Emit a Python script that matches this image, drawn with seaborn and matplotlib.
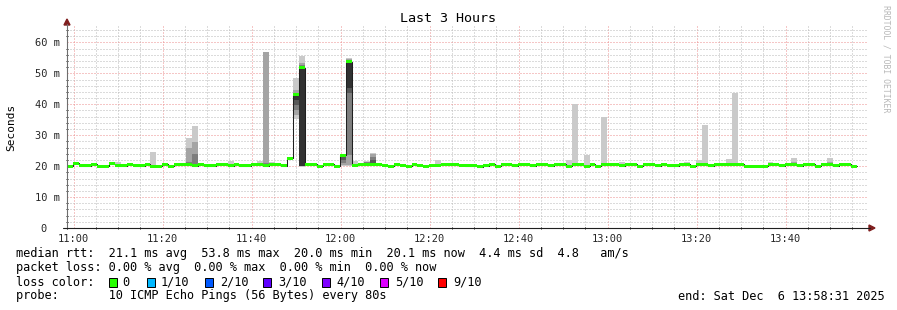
import numpy as np
import pandas as pd
import matplotlib
matplotlib.use("Agg")
import matplotlib.pyplot as plt
import seaborn as sns
from matplotlib.patches import Rectangle, Polygon
from matplotlib.lines import Line2D
from matplotlib.ticker import MultipleLocator, FixedLocator

# ------------------------------------------------------------------ data
title = "Last 3 Hours"
y_label = "Seconds"
side_label = "RRDTOOL / TOBI OETIKER"

window_start_min = -1.4833      # 10:58:31, minutes relative to 11:00
window_end_min = 178.5167       # 13:58:31
first_step_min = -1.40          # first probe interval starts 10:58:36
step_seconds = 80

median_ms = [
    20.0, 21.0, 20.2, 20.2, 20.6, 19.9, 19.9, 20.8, 20.2, 20.2,
    20.6, 20.1, 20.1, 20.6, 19.9, 19.9, 20.6, 19.9, 20.4, 20.4,
    20.4, 20.2, 20.6, 20.1, 20.1, 20.6, 20.6, 20.2, 20.5, 20.2,
    20.1, 20.6, 20.6, 20.2, 20.6, 20.6, 20.1, 22.5, 43.0, 51.8,
    20.6, 20.6, 20.0, 20.6, 20.6, 20.0, 23.5, 53.7, 20.3, 20.4,
    20.4, 20.6, 20.6, 20.3, 19.9, 20.6, 20.3, 19.9, 20.6, 20.3,
    19.9, 20.3, 20.3, 20.6, 20.5, 20.5, 20.3, 20.1, 20.1, 19.8,
    20.1, 20.6, 19.9, 20.6, 20.6, 20.1, 20.6, 20.6, 20.1, 20.6,
    20.6, 20.1, 20.6, 20.6, 19.9, 20.6, 20.5, 19.9, 20.6, 19.9,
    20.4, 20.4, 20.6, 20.1, 20.6, 20.6, 19.9, 20.6, 20.6, 20.1,
    20.6, 20.1, 20.1, 20.4, 20.6, 19.9, 20.4, 20.6, 20.1, 20.4,
    20.6, 20.4, 20.6, 20.6, 19.9, 19.9, 19.9, 19.9, 20.6, 20.6,
    20.1, 20.6, 20.6, 20.1, 20.6, 20.6, 19.9, 20.6, 20.6, 20.1,
    20.6, 20.6, 19.9,
]

# probe intervals with visible smoke: 10 sorted ping times (ms)
smoke_steps = [8, 14, 20, 21, 27, 32, 33, 34, 37, 38, 39, 46, 47, 48, 50, 51,
               62, 84, 85, 87, 90, 93, 104, 106, 107, 111, 112, 118, 122, 128]
smoke_pings = [
    [19.9, 20.0, 20.1, 20.1, 20.2, 20.2, 20.3, 20.4, 20.6, 21.2],
    [19.7, 19.8, 19.8, 19.9, 19.9, 19.9, 20.0, 20.1, 20.3, 24.5],
    [20.0, 20.2, 20.3, 20.4, 20.4, 20.4, 20.6, 21.2, 25.8, 29.0],
    [20.0, 20.1, 20.2, 20.2, 20.2, 20.2, 20.5, 23.9, 27.8, 32.9],
    [20.0, 20.1, 20.1, 20.2, 20.2, 20.2, 20.3, 20.4, 20.6, 21.7],
    [20.3, 20.4, 20.5, 20.6, 20.6, 20.6, 20.7, 20.8, 21.0, 21.5],
    [20.0, 20.1, 20.1, 20.2, 20.2, 20.2, 20.4, 21.0, 56.8, 57.0],
    [20.4, 20.5, 20.5, 20.6, 20.6, 20.6, 20.7, 20.8, 21.0, 21.3],
    [22.0, 22.2, 22.3, 22.4, 22.5, 22.5, 22.6, 22.7, 22.9, 23.1],
    [35.1, 36.5, 38.0, 39.7, 41.5, 43.0, 43.3, 43.8, 44.5, 48.5],
    [19.8, 19.9, 20.0, 20.1, 20.2, 51.8, 52.3, 52.8, 53.4, 55.6],
    [20.0, 20.5, 21.0, 22.0, 23.0, 23.5, 23.6, 23.7, 23.8, 24.0],
    [20.0, 20.5, 23.5, 43.5, 45.1, 53.7, 54.0, 54.2, 54.5, 54.8],
    [20.1, 20.2, 20.2, 20.3, 20.3, 20.3, 20.4, 20.5, 20.7, 21.6],
    [20.2, 20.3, 20.4, 20.4, 20.4, 20.4, 20.6, 21.3, 21.4, 21.5],
    [20.3, 20.4, 20.5, 20.6, 20.6, 20.6, 21.9, 22.8, 24.0, 24.4],
    [20.1, 20.2, 20.3, 20.3, 20.3, 20.3, 20.4, 20.5, 20.7, 21.9],
    [19.7, 19.8, 19.9, 19.9, 19.9, 19.9, 20.0, 20.1, 20.3, 21.9],
    [20.4, 20.5, 20.6, 20.6, 20.6, 20.6, 20.7, 20.8, 21.0, 40.2],
    [19.7, 19.8, 19.9, 19.9, 19.9, 19.9, 20.0, 20.1, 20.3, 23.7],
    [20.2, 20.3, 20.4, 20.4, 20.4, 20.4, 20.5, 20.6, 20.8, 35.8],
    [19.9, 20.0, 20.1, 20.1, 20.1, 20.1, 20.2, 20.3, 20.5, 21.3],
    [20.4, 20.5, 20.6, 20.6, 20.6, 20.6, 20.7, 20.8, 21.0, 21.3],
    [20.2, 20.3, 20.4, 20.4, 20.4, 20.4, 20.5, 20.6, 20.8, 21.9],
    [20.4, 20.5, 20.6, 20.6, 20.6, 20.6, 20.7, 20.8, 21.0, 33.2],
    [20.2, 20.3, 20.4, 20.4, 20.4, 20.4, 20.5, 20.6, 20.8, 22.3],
    [20.4, 20.5, 20.6, 20.6, 20.6, 20.6, 20.7, 20.8, 21.0, 43.6],
    [20.4, 20.5, 20.6, 20.6, 20.6, 20.6, 20.7, 20.8, 21.0, 21.3],
    [20.4, 20.5, 20.6, 20.6, 20.6, 20.6, 20.7, 21.0, 21.2, 22.6],
    [20.4, 20.5, 20.6, 20.6, 20.6, 20.6, 20.7, 21.0, 21.2, 22.6],
]
smoke_colors = ["#cacaca", "#a4a4a4", "#7e7e7e", "#585858", "#323232"]

x_tick_minutes = [0, 20, 40, 60, 80, 100, 120, 140, 160]
x_tick_labels = ["11:00", "11:20", "11:40", "12:00", "12:20",
                 "12:40", "13:00", "13:20", "13:40"]
y_tick_ms = [0, 10, 20, 30, 40, 50, 60]
y_tick_labels = ["0  ", "10 m", "20 m", "30 m", "40 m", "50 m", "60 m"]
y_max_ms = 65.3

line_rtt = "median rtt:  21.1 ms avg  53.8 ms max  20.0 ms min  20.1 ms now  4.4 ms sd  4.8   am/s"
line_loss = "packet loss: 0.00 % avg  0.00 % max  0.00 % min  0.00 % now"
loss_title = "loss color:"
loss_labels = ["0", "1/10", "2/10", "3/10", "4/10", "5/10", "9/10"]
loss_colors = ["#26ff00", "#00b8ff", "#0059ff", "#5e00ff", "#7e00ff", "#dd00ff", "#ff0000"]
probe_label = "probe:       10 ICMP Echo Pings (56 Bytes) every 80s"
end_label = "end: Sat Dec  6 13:58:31 2025"

# ------------------------------------------------------------------ style
W, H = 897, 310
sns.set_theme(style="white")
plt.rcParams["font.family"] = ["DejaVu Sans Mono", "DejaVu Sans"]
plt.rcParams["text.color"] = "black"

fig = plt.figure(figsize=(W / 100, H / 100), dpi=100, facecolor="white")
ax = fig.add_axes([67 / W, 82 / H, (868 - 67) / W, 202 / H])
ax.set_facecolor("white")

step_min = step_seconds / 60.0
n = len(median_ms)
t_start = first_step_min + np.arange(n) * step_min
t_ext = np.append(t_start, t_start[-1] + step_min)
med = np.array(median_ms)
med_ext = np.append(med, med[-1])

# smoke (outer pairs first, lighter; inner pairs darker on top)
pings = np.array(smoke_pings)
xs = t_start[smoke_steps]
for i, col in enumerate(smoke_colors):
    lo = pings[:, i]
    hi = pings[:, 9 - i]
    ax.bar(xs, hi - lo, bottom=lo, width=step_min, align="edge",
           color=col, linewidth=0, zorder=2)

# median line
df = pd.DataFrame({"t": t_ext, "median": med_ext})
sns.lineplot(data=df, x="t", y="median", drawstyle="steps-post",
             color="#202020", linewidth=0.75, ax=ax, estimator=None,
             sort=False, zorder=4)

# loss-colored band around median
px_per_ms = 202 / y_max_ms
half = 1.5 / px_per_ms
ax.fill_between(t_ext, med_ext - half, med_ext + half, step="post",
                color=loss_colors[0], linewidth=0, zorder=5)

ax.set_xlim(window_start_min, window_end_min)
ax.set_ylim(0, y_max_ms)
ax.set_xlabel("")
ax.set_ylabel("")

ax.xaxis.set_major_locator(FixedLocator(x_tick_minutes))
ax.set_xticklabels(x_tick_labels)
ax.xaxis.set_minor_locator(MultipleLocator(5))
ax.yaxis.set_major_locator(FixedLocator(y_tick_ms))
ax.set_yticklabels(y_tick_labels)
ax.yaxis.set_minor_locator(MultipleLocator(2))

grid_minor = "#b9b9b9"
grid_major = "#ec8e8e"
ax.set_axisbelow(True)
ax.grid(which="minor", color=grid_minor, linestyle=(0, (1, 2)), linewidth=0.72)
ax.grid(which="major", color=grid_major, linestyle=(0, (1, 2)), linewidth=0.72)

for s in ax.spines.values():
    s.set_visible(False)

ax.tick_params(axis="both", which="major", length=3, width=0.7,
               direction="inout", color="#1f1f1f", labelsize=7.5)
ax.tick_params(axis="both", which="minor", length=2, width=0.7,
               direction="inout", color="#1f1f1f")
ax.tick_params(axis="x", which="major", pad=3)
ax.tick_params(axis="y", which="major", pad=3.5)
ax.tick_params(axis="x", which="minor", bottom=True)
ax.tick_params(axis="y", which="minor", left=True)

# ------------------------------------------------------------------ axes + arrows (pixel space)
def fx(x):
    return x / W

def fy(y):
    return 1 - y / H

arrow_col = (0.5, 0.12, 0.12)
fig.add_artist(Line2D([fx(67), fx(67)], [fy(229), fy(24)], color="#6e6e6e",
                      linewidth=0.8, transform=fig.transFigure))
fig.add_artist(Line2D([fx(63), fx(870)], [fy(228), fy(228)], color="#1f1f1f",
                      linewidth=0.8, transform=fig.transFigure))
fig.add_artist(Polygon([[fx(64), fy(25)], [fx(70), fy(25)], [fx(67), fy(19)]],
                       closed=True, color=arrow_col, transform=fig.transFigure))
fig.add_artist(Polygon([[fx(869), fy(225)], [fx(869), fy(231)], [fx(875), fy(228)]],
                       closed=True, color=arrow_col, transform=fig.transFigure))

# ------------------------------------------------------------------ texts
fig.text(fx(448), fy(19), title, ha="center", va="center", fontsize=9.6)
fig.text(fx(11), fy(127), y_label, ha="center", va="center", rotation=90,
         fontsize=8)
fig.text(fx(886), fy(59), side_label, ha="center", va="center", rotation=270,
         fontsize=5.9, color="#b8b8b8")

lg = 8.55
fig.text(fx(16), fy(254), line_rtt, ha="left", va="center", fontsize=lg)
fig.text(fx(16), fy(268), line_loss, ha="left", va="center", fontsize=lg)
fig.text(fx(16), fy(282), loss_title, ha="left", va="center", fontsize=lg)
box_x = [109, 147, 205, 263, 322, 380, 438]
text_x = [122, 161, 220, 278, 336, 395, 453]
for bx, tx, lab, col in zip(box_x, text_x, loss_labels, loss_colors):
    fig.add_artist(Rectangle((fx(bx), fy(286.5)), 8 / W, 9 / H,
                             facecolor=col, edgecolor="black", linewidth=0.7,
                             transform=fig.transFigure))
    fig.text(fx(tx), fy(282), lab, ha="left", va="center", fontsize=lg)
fig.text(fx(16), fy(296), probe_label, ha="left", va="center", fontsize=lg)
fig.text(fx(885), fy(296), end_label, ha="right", va="center", fontsize=lg)

fig.savefig("out.png", dpi=100, facecolor="white")
